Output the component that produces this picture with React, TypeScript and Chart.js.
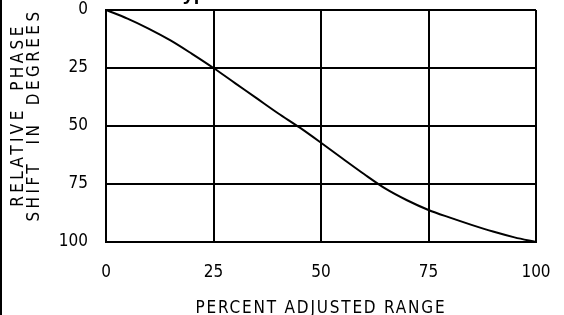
import React, { useEffect, useRef } from "react";
import { Chart, registerables } from "chart.js";

Chart.register(...registerables);

const rangePercent = [0, 5, 10, 15, 20, 25, 30, 35, 40, 45, 50, 55, 60, 65, 70, 75, 80, 85, 90, 95, 100];
const phaseShift = [0, 3.7, 8.1, 13.1, 18.9, 25, 31.5, 38, 44.5, 50.6, 57.2, 64, 70.7, 77, 82, 86.2, 89.5, 92.6, 95.5, 98, 100];
const xTickValues = [0, 25, 50, 75, 100];
const yTickValues = [0, 25, 50, 75, 100];
const xTitle = "PERCENT ADJUSTED RANGE";
const yTitle = ["RELATIVE  PHASE", "SHIFT  IN  DEGREES"];
const topTitle = "Typical";

const FONT = "'Liberation Sans Narrow', 'DejaVu Sans Condensed', 'Liberation Sans', sans-serif";

const spacedTitles = {
  id: "spacedTitles",
  beforeDraw(chart: any) {
    const ctx = chart.ctx;
    const cfg: Record<string, { spacing: string; dy: number }> = {
      x: { spacing: "1.8px", dy: 0 },
      y: { spacing: "3.4px", dy: -11 },
    };
    Object.keys(cfg).forEach((id) => {
      const s = chart.scales[id];
      if (!s || s.__patched) return;
      const orig = s.drawTitle.bind(s);
      s.drawTitle = () => {
        ctx.save();
        (ctx as any).letterSpacing = cfg[id].spacing;
        ctx.translate(0, cfg[id].dy);
        orig();
        ctx.restore();
      };
      s.__patched = true;
    });
  },
  afterDraw(chart: any) {
    const ctx = chart.ctx;
    ctx.save();
    ctx.font = "bold 20px 'Liberation Sans', sans-serif";
    ctx.fillStyle = "#000";
    ctx.textBaseline = "alphabetic";
    ctx.textAlign = "left";
    ctx.fillText(topTitle, 170, 0);
    ctx.restore();
  },
};

export default function App() {
  const ref = useRef<HTMLCanvasElement | null>(null);
  useEffect(() => {
    document.body.style.margin = "0";
    const canvas = ref.current!;
    const chart = new Chart(canvas, {
      type: "line",
      data: {
        datasets: [
          {
            data: rangePercent.map((x, i) => ({ x, y: phaseShift[i] })),
            borderColor: "#000",
            borderWidth: 2,
            pointRadius: 0,
            cubicInterpolationMode: "monotone",
            fill: false,
          },
        ],
      },
      options: {
        animation: false,
        responsive: false,
        devicePixelRatio: 1,
        layout: { padding: { top: 10, right: 28, bottom: 0, left: 0 } },
        plugins: { legend: { display: false }, tooltip: { enabled: false }, title: { display: false } },
        scales: {
          x: {
            type: "linear",
            min: 0,
            max: 100,
            afterBuildTicks: (s: any) => {
              s.ticks = xTickValues.map((v) => ({ value: v }));
            },
            afterFit: (s: any) => {
              s.height = 73;
              s.paddingLeft = 0;
              s.paddingRight = 0;
            },
            grid: { color: "#000", lineWidth: 2, drawTicks: false },
            border: { color: "#000", width: 2 },
            ticks: { color: "#000", padding: 20, font: { family: FONT, size: 17 }, maxRotation: 0 },
            title: {
              display: true,
              text: xTitle,
              color: "#000",
              font: { family: FONT, size: 17, lineHeight: 0.8 },
              padding: 0,
            },
          },
          y: {
            type: "linear",
            reverse: true,
            min: 0,
            max: 100,
            afterBuildTicks: (s: any) => {
              s.ticks = yTickValues.map((v) => ({ value: v }));
            },
            afterFit: (s: any) => {
              s.width = 104;
              s.paddingTop = 0;
              s.paddingBottom = 0;
            },
            grid: { color: "#000", lineWidth: 2, drawTicks: false },
            border: { color: "#000", width: 2 },
            ticks: { color: "#000", padding: 18, font: { family: FONT, size: 17 } },
            title: {
              display: true,
              text: yTitle,
              color: "#000",
              font: { family: FONT, size: 17, lineHeight: 16 / 17 },
              padding: { top: 9, bottom: 0 },
            },
          },
        },
      },
      plugins: [spacedTitles],
    } as any);
    return () => chart.destroy();
  }, []);
  return (
    <div style={{ borderLeft: "2px solid #000", width: 562, height: 315, background: "#fff" }}>
      <canvas ref={ref} width={562} height={315} style={{ display: "block" }} />
    </div>
  );
}
